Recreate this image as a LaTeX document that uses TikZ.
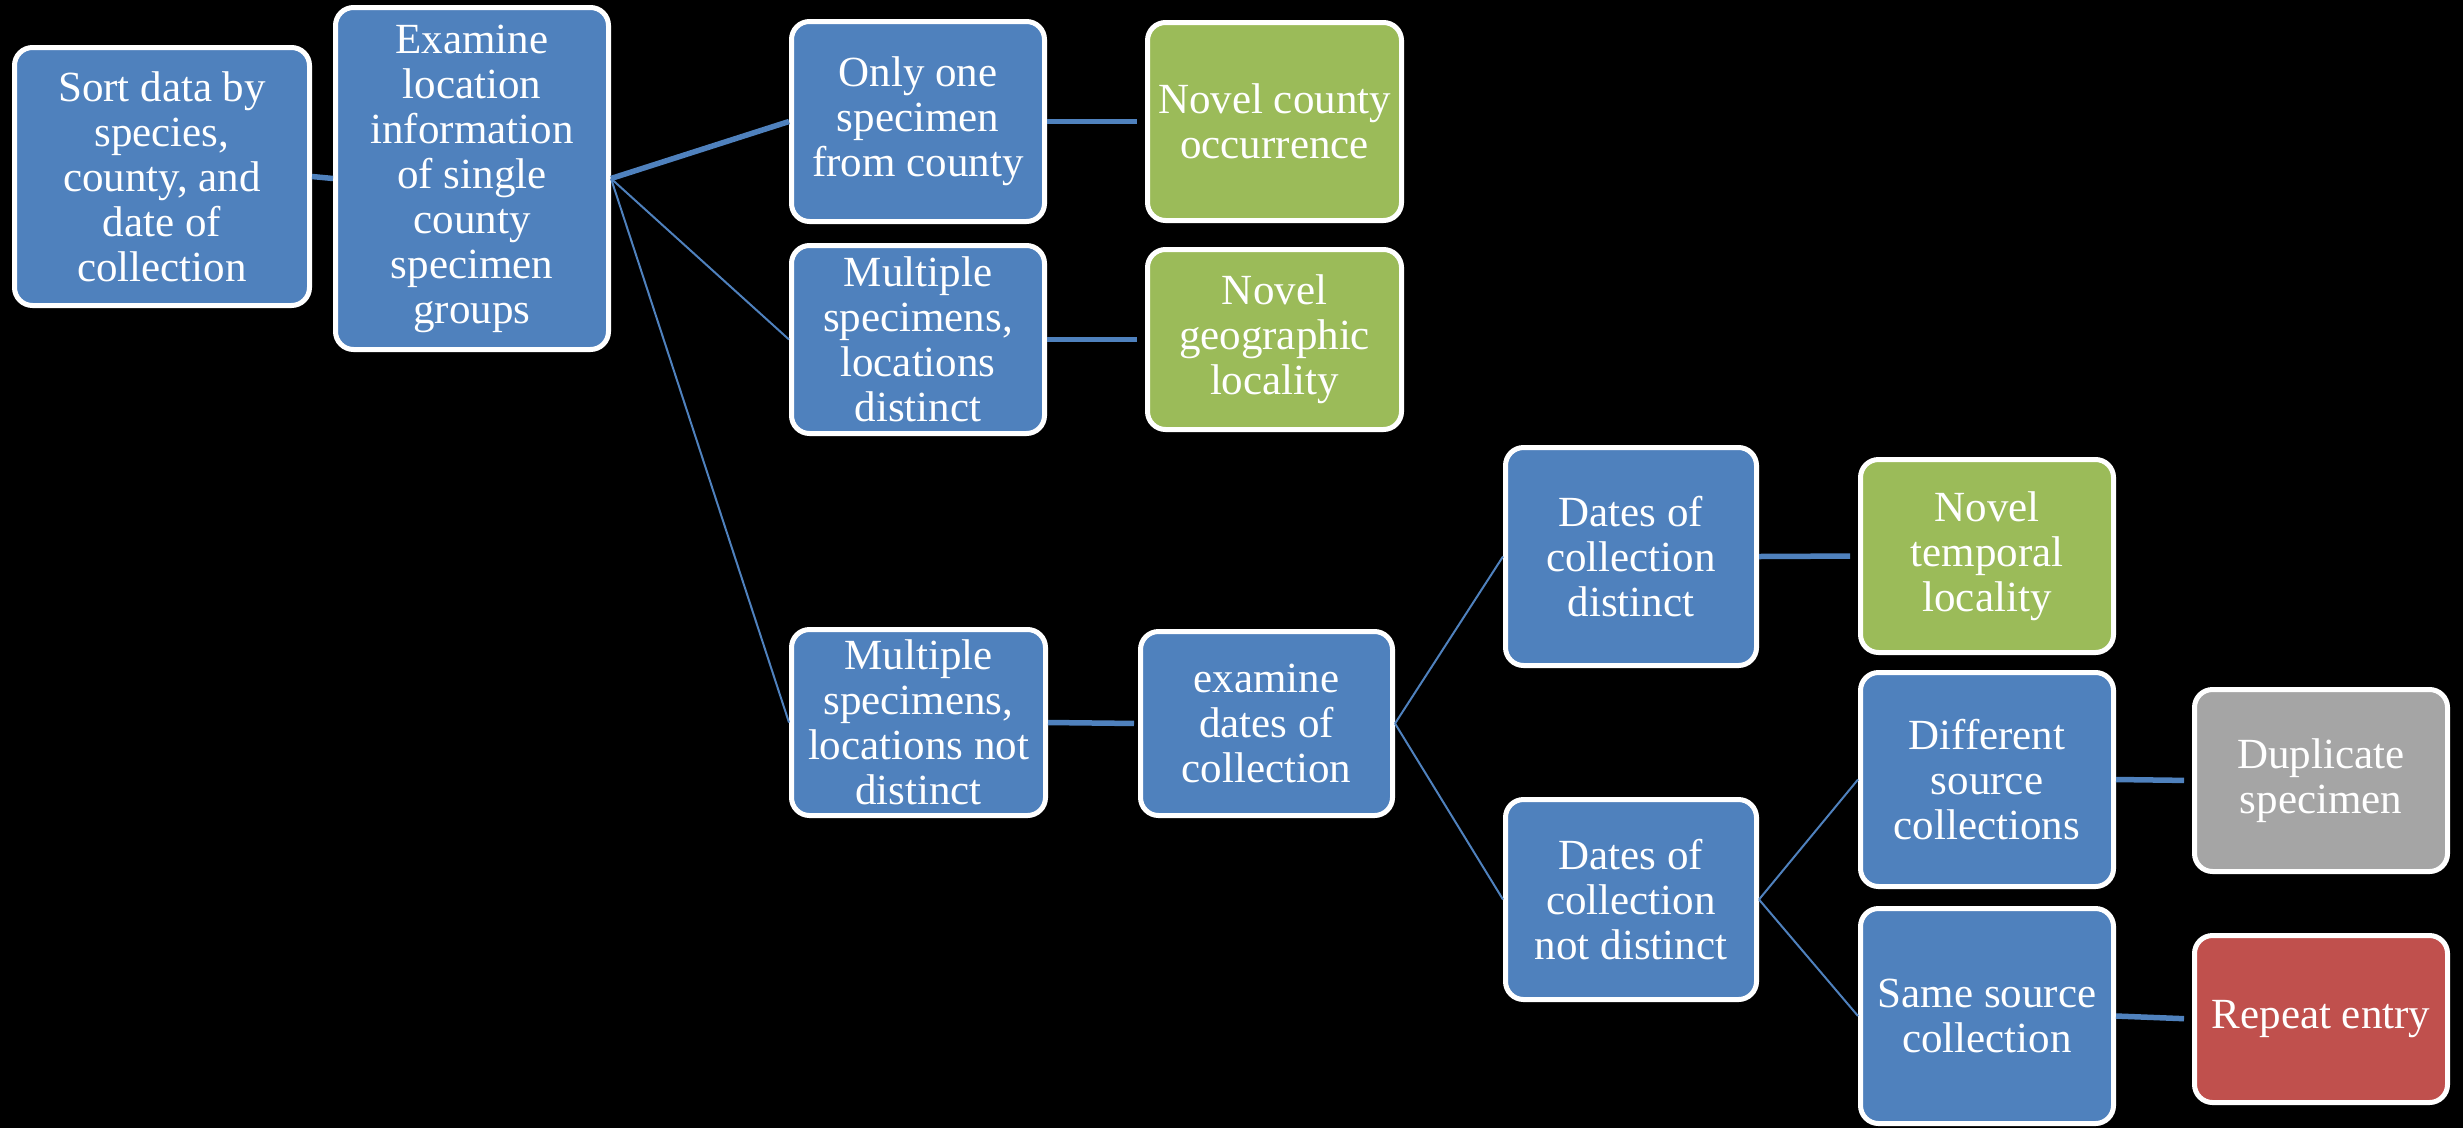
\documentclass[tikz,border=0pt]{standalone}
\usepackage{fontspec}
\setmainfont{Liberation Serif}
\definecolor{ofblue}{HTML}{4F81BD}
\definecolor{ofgreen}{HTML}{9BBB59}
\definecolor{ofred}{HTML}{C0504D}
\definecolor{ofgray}{HTML}{A5A5A5}
\begin{document}
\begin{tikzpicture}[x=1pt,y=-1pt,
  box/.style={draw=white, line width=5pt, rounded corners=18pt, text=white,
    align=center, inner sep=0pt, font=\fontsize{43}{45}\selectfont},
  bbox/.style={box, fill=ofblue},
  gbox/.style={box, fill=ofgreen},
  rbox/.style={box, fill=ofred},
  ybox/.style={box, fill=ofgray},
  thickc/.style={draw=ofblue, line width=5.5pt},
  thinc/.style={draw=ofblue, line width=2pt},
  gapend/.style={shorten >=8pt}]
\fill[black] (0,0) rectangle (2463,1128);
\useasboundingbox (0,0) rectangle (2463,1128);

\node[bbox, minimum width=295pt, minimum height=258pt] (A) at (162,176.5)
  {Sort data by\\species,\\county, and\\date of\\collection};
\node[bbox, minimum width=273pt, minimum height=342pt] (B) at (472,178.5)
  {Examine\\location\\information\\of single\\county\\specimen\\groups};
\node[bbox, minimum width=253pt, minimum height=200pt] (C) at (918,121.5)
  {Only one\\specimen\\from county};
\node[gbox, minimum width=254pt, minimum height=198pt] (D) at (1274.5,121.5)
  {Novel county\\occurrence};
\node[bbox, minimum width=253pt, minimum height=188pt] (E) at (918,339.5)
  {Multiple\\specimens,\\locations\\distinct};
\node[gbox, minimum width=254pt, minimum height=180pt] (F) at (1274.5,339.5)
  {Novel\\geographic\\locality};
\node[bbox, minimum width=254pt, minimum height=186pt] (G) at (918.5,722.5)
  {Multiple\\specimens,\\locations not\\distinct};
\node[bbox, minimum width=252pt, minimum height=184pt] (H) at (1266.5,723.5)
  {examine\\dates of\\collection};
\node[bbox, minimum width=251pt, minimum height=218pt] (I) at (1631,556.5)
  {Dates of\\collection\\distinct};
\node[gbox, minimum width=253pt, minimum height=193pt] (J) at (1987,556)
  {Novel\\temporal\\locality};
\node[bbox, minimum width=251pt, minimum height=200pt] (K) at (1631,899.5)
  {Dates of\\collection\\not distinct};
\node[bbox, minimum width=253pt, minimum height=214pt] (L) at (1987,779.5)
  {Different\\source\\collections};
\node[ybox, minimum width=253pt, minimum height=182pt] (M) at (2321,780.5)
  {Duplicate\\specimen};
\node[bbox, minimum width=253pt, minimum height=215pt] (N) at (1987,1016)
  {Same source\\collection};
\node[rbox, minimum width=253pt, minimum height=167pt] (O) at (2321,1019)
  {Repeat entry};

\draw[thickc] (A.east) -- (B.west);
\draw[thickc] (B.east) -- (C.west);
\draw[thinc] (B.east) -- (E.west);
\draw[thinc] (B.east) -- (G.west);
\draw[thickc, gapend] (C.east) -- (D.west);
\draw[thickc, gapend] (E.east) -- (F.west);
\draw[thickc, shorten >=4pt] (G.east) -- (H.west);
\draw[thinc] (H.east) -- (I.west);
\draw[thinc] (H.east) -- (K.west);
\draw[thickc, gapend] (I.east) -- (J.west);
\draw[thinc] (K.east) -- (L.west);
\draw[thinc] (K.east) -- (N.west);
\draw[thickc, gapend] (L.east) -- (M.west);
\draw[thickc, gapend] (N.east) -- (O.west);
\end{tikzpicture}
\end{document}
